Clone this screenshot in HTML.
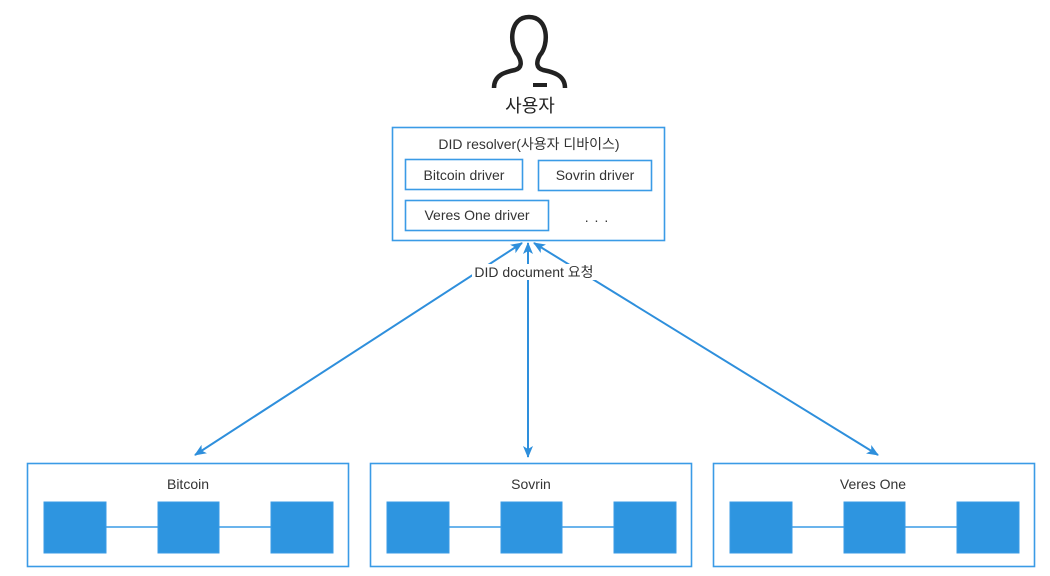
<!DOCTYPE html>
<html><head><meta charset="utf-8"><style>
body{margin:0;width:1050px;height:576px;background:#fff;overflow:hidden;font-family:"Liberation Sans","Noto Sans CJK KR",sans-serif;}
</style></head><body>
<svg width="1050" height="576" xmlns="http://www.w3.org/2000/svg" style="position:absolute;left:0;top:0">
<defs>
<marker id="a" markerWidth="12" markerHeight="10" refX="11" refY="5" orient="auto-start-reverse" markerUnits="userSpaceOnUse">
<path d="M0,0 L12,5 L0,10 L3,5 Z" fill="#2e8fdc"/></marker>
</defs>
<path d="M494,88 C494,75 505,72 515,70 C522,68 522,62 518,55 C509,45 509,17 529,17 C549,17 549,45 540,55 C536,62 536,68 543,70 C553,72 565,75 565,88" fill="none" stroke="#222" stroke-width="4.5"/>
<rect x="533" y="83" width="14" height="4" fill="#222"/>
<text x="530" y="112" font-size="18" text-anchor="middle" fill="#222">사용자</text>
<g fill="none" stroke="#3a9be6" stroke-width="1.6">
<rect x="392.5" y="127.5" width="272" height="113"/>
<rect x="405.5" y="159.5" width="117" height="30"/>
<rect x="538.5" y="160.5" width="113" height="30"/>
<rect x="405.5" y="200.5" width="143" height="30"/>
<rect x="27.5" y="463.5" width="321" height="103"/>
<rect x="370.5" y="463.5" width="321" height="103"/>
<rect x="713.5" y="463.5" width="321" height="103"/>
</g>
<g font-size="14" fill="#333" text-anchor="middle">
<text x="529" y="149">DID resolver(사용자 디바이스)</text>
<text x="464" y="180">Bitcoin driver</text>
<text x="595" y="180">Sovrin driver</text>
<text x="477" y="220">Veres One driver</text>
<text x="597" y="222" letter-spacing="1">. . .</text>
<text x="188" y="489">Bitcoin</text>
<text x="531" y="489">Sovrin</text>
<text x="873" y="489">Veres One</text>
</g>
<g stroke="#2e8fdc" stroke-width="2" fill="none">
<line x1="528" y1="243" x2="528" y2="457" marker-start="url(#a)" marker-end="url(#a)"/>
<line x1="522" y1="243" x2="195" y2="455" marker-start="url(#a)" marker-end="url(#a)"/>
<line x1="534" y1="243" x2="878" y2="455" marker-start="url(#a)" marker-end="url(#a)"/>
</g>
<rect x="472" y="264" width="124" height="16" fill="#fff"/>
<text x="534" y="277" font-size="14" fill="#333" text-anchor="middle">DID document 요청</text>
<g fill="#2e95e0" stroke="#3a9be6">
<g id="c">
<line x1="106" y1="527" x2="271" y2="527" stroke-width="1.5"/>
<rect x="44" y="502" width="62" height="51"/>
<rect x="158" y="502" width="61" height="51"/>
<rect x="271" y="502" width="62" height="51"/>
</g>
<use href="#c" x="343"/>
<use href="#c" x="686"/>
</g>
</svg>
</body></html>
